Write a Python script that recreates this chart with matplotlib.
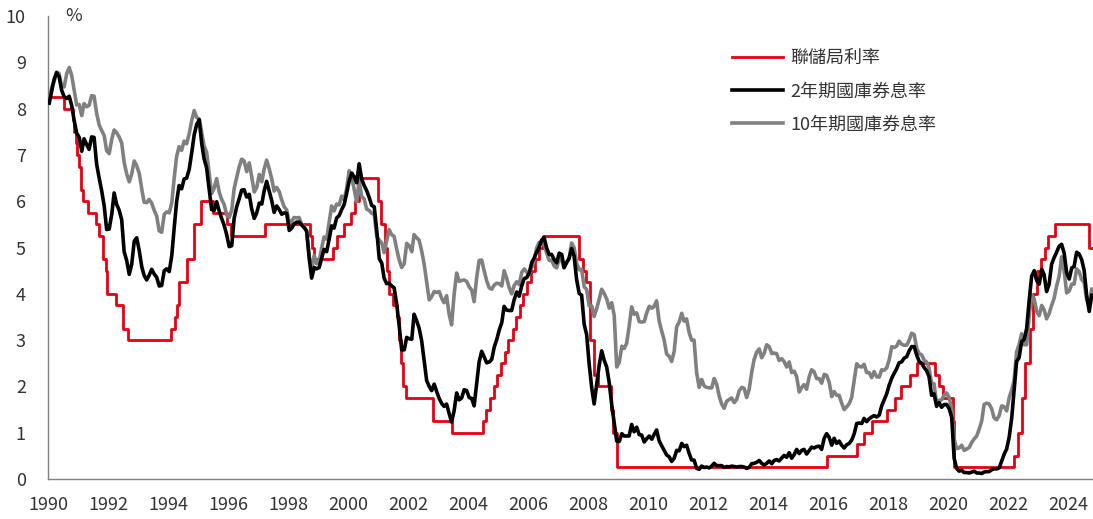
import matplotlib
matplotlib.use("Agg")
import matplotlib.pyplot as plt
import matplotlib.dates as mdates
import pandas as pd

plt.rcParams['font.family'] = ['Noto Sans CJK TC', 'DejaVu Sans']

# Fed funds target (upper bound) change dates and levels
fed_dates = ["1990-01-01", "1990-07-13", "1990-10-29", "1990-11-13", "1990-12-07", "1990-12-19",
             "1991-01-09", "1991-02-01", "1991-03-08", "1991-04-30", "1991-08-06", "1991-09-13",
             "1991-10-31", "1991-11-06", "1991-12-06", "1991-12-20", "1992-04-09", "1992-07-02",
             "1992-09-04", "1994-02-04", "1994-03-22", "1994-04-18", "1994-05-17", "1994-08-16",
             "1994-11-15", "1995-02-01", "1995-07-06", "1995-12-19", "1996-01-31", "1997-03-25",
             "1998-09-29", "1998-10-15", "1998-11-17", "1999-06-30", "1999-08-24", "1999-11-16",
             "2000-02-02", "2000-03-21", "2000-05-16", "2001-01-03", "2001-01-31", "2001-03-20",
             "2001-04-18", "2001-05-15", "2001-06-27", "2001-08-21", "2001-09-17", "2001-10-02",
             "2001-11-06", "2001-12-11", "2002-11-06", "2003-06-25", "2004-06-30", "2004-08-10",
             "2004-09-21", "2004-11-10", "2004-12-14", "2005-02-02", "2005-03-22", "2005-05-03",
             "2005-06-30", "2005-08-09", "2005-09-20", "2005-11-01", "2005-12-13", "2006-01-31",
             "2006-03-28", "2006-05-10", "2006-06-29", "2007-09-18", "2007-10-31", "2007-12-11",
             "2008-01-22", "2008-01-30", "2008-03-18", "2008-04-30", "2008-10-08", "2008-10-29",
             "2008-12-16", "2015-12-16", "2016-12-14", "2017-03-15", "2017-06-14", "2017-12-13",
             "2018-03-21", "2018-06-13", "2018-09-26", "2018-12-19", "2019-07-31", "2019-09-18",
             "2019-10-30", "2020-03-03", "2020-03-15", "2022-03-16", "2022-05-04", "2022-06-15",
             "2022-07-27", "2022-09-21", "2022-11-02", "2022-12-14", "2023-02-01", "2023-03-22",
             "2023-05-03", "2023-07-26", "2024-09-18", "2024-10-31"]
fed_rate = [8.25, 8.00, 7.75, 7.50, 7.25, 7.00,
            6.75, 6.25, 6.00, 5.75, 5.50, 5.25,
            5.00, 4.75, 4.50, 4.00, 3.75, 3.25,
            3.00, 3.25, 3.50, 3.75, 4.25, 4.75,
            5.50, 6.00, 5.75, 5.50, 5.25, 5.50,
            5.25, 5.00, 4.75, 5.00, 5.25, 5.50,
            5.75, 6.00, 6.50, 6.00, 5.50, 5.00,
            4.50, 4.00, 3.75, 3.50, 3.00, 2.50,
            2.00, 1.75, 1.25, 1.00, 1.25, 1.50,
            1.75, 2.00, 2.25, 2.50, 2.75, 3.00,
            3.25, 3.50, 3.75, 4.00, 4.25, 4.50,
            4.75, 5.00, 5.25, 4.75, 4.50, 4.25,
            3.50, 3.00, 2.25, 2.00, 1.50, 1.00,
            0.25, 0.50, 0.75, 1.00, 1.25, 1.50,
            1.75, 2.00, 2.25, 2.50, 2.25, 2.00,
            1.75, 1.25, 0.25, 0.50, 1.00, 1.75,
            2.50, 3.25, 4.00, 4.50, 4.75, 5.00,
            5.25, 5.50, 5.00, 5.00]

# monthly 2-year treasury yield, Jan 1990 - Oct 2024
ust2 = [8.12, 8.39, 8.63, 8.78, 8.69, 8.40, 8.26, 8.22, 8.27, 8.07, 7.74, 7.47,
        7.38, 7.08, 7.35, 7.23, 7.12, 7.39, 7.38, 6.80, 6.50, 6.23, 5.90, 5.39,
        5.40, 5.72, 6.18, 5.93, 5.81, 5.60, 4.91, 4.72, 4.42, 4.64, 5.14, 5.21,
        4.93, 4.58, 4.40, 4.30, 4.40, 4.53, 4.43, 4.36, 4.17, 4.18, 4.50, 4.54,
        4.48, 4.83, 5.40, 5.99, 6.34, 6.27, 6.48, 6.50, 6.69, 7.04, 7.44, 7.66,
        7.76, 7.24, 6.92, 6.72, 6.28, 5.82, 5.80, 5.99, 5.79, 5.63, 5.48, 5.28,
        5.02, 5.04, 5.63, 5.88, 6.05, 6.24, 6.25, 6.09, 6.15, 5.83, 5.63, 5.75,
        5.96, 5.94, 6.22, 6.43, 6.23, 6.02, 5.76, 5.90, 5.82, 5.72, 5.75, 5.74,
        5.37, 5.42, 5.51, 5.55, 5.55, 5.49, 5.43, 5.36, 4.77, 4.34, 4.57, 4.54,
        4.57, 4.78, 4.96, 4.91, 5.17, 5.47, 5.42, 5.64, 5.69, 5.82, 5.93, 6.17,
        6.44, 6.61, 6.53, 6.40, 6.81, 6.48, 6.34, 6.23, 6.08, 5.91, 5.88, 5.38,
        4.76, 4.66, 4.34, 4.22, 4.23, 4.17, 4.13, 3.78, 3.31, 2.79, 2.79, 3.06,
        3.03, 3.02, 3.56, 3.42, 3.26, 2.99, 2.56, 2.13, 2.00, 1.91, 2.05, 1.89,
        1.74, 1.63, 1.57, 1.62, 1.42, 1.23, 1.47, 1.86, 1.71, 1.75, 1.93, 1.91,
        1.76, 1.74, 1.58, 2.07, 2.53, 2.76, 2.64, 2.51, 2.53, 2.58, 2.85, 3.01,
        3.22, 3.38, 3.73, 3.65, 3.64, 3.64, 3.87, 4.04, 3.95, 4.17, 4.33, 4.35,
        4.45, 4.68, 4.77, 4.90, 5.00, 5.16, 5.22, 4.99, 4.85, 4.85, 4.74, 4.67,
        4.88, 4.85, 4.57, 4.67, 4.77, 4.98, 4.82, 4.31, 4.01, 3.97, 3.34, 3.12,
        2.48, 1.97, 1.62, 2.05, 2.45, 2.77, 2.57, 2.42, 2.08, 1.61, 1.21, 0.82,
        0.81, 0.98, 0.93, 0.93, 0.93, 1.18, 1.02, 1.12, 0.96, 0.95, 0.80, 0.87,
        0.93, 0.86, 0.96, 1.06, 0.83, 0.72, 0.62, 0.52, 0.48, 0.38, 0.45, 0.62,
        0.61, 0.77, 0.70, 0.73, 0.56, 0.41, 0.41, 0.23, 0.21, 0.28, 0.25, 0.26,
        0.24, 0.28, 0.34, 0.29, 0.29, 0.29, 0.25, 0.27, 0.26, 0.28, 0.27, 0.26,
        0.27, 0.27, 0.26, 0.23, 0.25, 0.33, 0.34, 0.36, 0.40, 0.34, 0.30, 0.34,
        0.39, 0.33, 0.40, 0.42, 0.39, 0.45, 0.51, 0.47, 0.57, 0.45, 0.53, 0.64,
        0.55, 0.62, 0.64, 0.54, 0.61, 0.69, 0.67, 0.70, 0.71, 0.64, 0.88, 0.98,
        0.90, 0.73, 0.88, 0.77, 0.82, 0.73, 0.67, 0.74, 0.77, 0.84, 0.98, 1.20,
        1.21, 1.20, 1.31, 1.24, 1.30, 1.34, 1.37, 1.34, 1.38, 1.58, 1.71, 1.84,
        2.03, 2.18, 2.28, 2.38, 2.51, 2.53, 2.61, 2.64, 2.77, 2.86, 2.86, 2.68,
        2.54, 2.50, 2.41, 2.34, 2.21, 1.81, 1.84, 1.57, 1.65, 1.55, 1.61, 1.61,
        1.52, 1.33, 0.45, 0.23, 0.17, 0.19, 0.14, 0.14, 0.13, 0.15, 0.17, 0.13,
        0.13, 0.12, 0.15, 0.16, 0.16, 0.20, 0.22, 0.22, 0.24, 0.39, 0.54, 0.65,
        0.91, 1.33, 1.91, 2.54, 2.62, 2.97, 3.01, 3.25, 3.86, 4.38, 4.50, 4.29,
        4.21, 4.53, 4.42, 4.05, 4.20, 4.64, 4.78, 4.90, 5.03, 5.07, 4.88, 4.46,
        4.32, 4.56, 4.59, 4.90, 4.86, 4.74, 4.51, 3.97, 3.62, 3.97]

# monthly 10-year treasury yield, Jan 1990 - Oct 2024
ust10 = [8.21, 8.47, 8.59, 8.79, 8.76, 8.48, 8.47, 8.75, 8.89, 8.72, 8.39, 8.08,
         8.09, 7.85, 8.11, 8.04, 8.07, 8.28, 8.27, 7.90, 7.65, 7.53, 7.42, 7.09,
         7.03, 7.34, 7.54, 7.48, 7.39, 7.26, 6.84, 6.59, 6.42, 6.59, 6.87, 6.77,
         6.60, 6.26, 5.98, 5.97, 6.04, 5.96, 5.81, 5.68, 5.36, 5.33, 5.72, 5.77,
         5.75, 5.97, 6.48, 6.97, 7.18, 7.10, 7.30, 7.24, 7.46, 7.74, 7.96, 7.81,
         7.78, 7.47, 7.20, 7.06, 6.63, 6.17, 6.28, 6.49, 6.20, 6.04, 5.93, 5.71,
         5.65, 5.81, 6.27, 6.51, 6.74, 6.91, 6.87, 6.64, 6.83, 6.53, 6.20, 6.30,
         6.58, 6.42, 6.69, 6.89, 6.71, 6.49, 6.22, 6.30, 6.21, 6.03, 5.88, 5.81,
         5.54, 5.57, 5.65, 5.64, 5.65, 5.50, 5.46, 5.34, 4.81, 4.53, 4.83, 4.65,
         4.72, 5.00, 5.23, 5.18, 5.54, 5.90, 5.79, 5.94, 5.92, 6.11, 6.03, 6.28,
         6.66, 6.52, 6.26, 5.99, 6.44, 6.10, 6.05, 5.83, 5.80, 5.74, 5.72, 5.24,
         5.16, 5.10, 4.89, 5.14, 5.39, 5.28, 5.24, 4.97, 4.73, 4.57, 4.65, 5.09,
         5.04, 4.91, 5.28, 5.21, 5.16, 4.93, 4.65, 4.26, 3.87, 3.94, 4.05, 4.03,
         4.05, 3.90, 3.81, 3.96, 3.57, 3.33, 3.98, 4.45, 4.27, 4.29, 4.30, 4.27,
         4.15, 4.08, 3.83, 4.35, 4.72, 4.73, 4.50, 4.28, 4.13, 4.10, 4.19, 4.23,
         4.22, 4.17, 4.50, 4.34, 4.14, 4.00, 4.18, 4.26, 4.20, 4.46, 4.54, 4.47,
         4.42, 4.57, 4.72, 4.99, 5.11, 5.11, 5.09, 4.88, 4.72, 4.73, 4.60, 4.56,
         4.76, 4.72, 4.56, 4.69, 4.75, 5.10, 5.00, 4.67, 4.52, 4.53, 4.15, 4.10,
         3.74, 3.74, 3.51, 3.68, 3.88, 4.10, 4.01, 3.89, 3.69, 3.81, 3.53, 2.42,
         2.52, 2.87, 2.82, 2.93, 3.29, 3.72, 3.56, 3.59, 3.40, 3.39, 3.40, 3.59,
         3.73, 3.69, 3.73, 3.85, 3.42, 3.20, 3.01, 2.70, 2.65, 2.54, 2.76, 3.29,
         3.39, 3.58, 3.41, 3.46, 3.17, 3.00, 3.00, 2.30, 1.98, 2.15, 2.01, 1.98,
         1.97, 1.97, 2.17, 2.05, 1.80, 1.62, 1.53, 1.68, 1.72, 1.75, 1.65, 1.72,
         1.91, 1.98, 1.96, 1.76, 1.93, 2.30, 2.58, 2.74, 2.81, 2.62, 2.72, 2.90,
         2.86, 2.71, 2.72, 2.71, 2.56, 2.60, 2.54, 2.42, 2.53, 2.30, 2.33, 2.21,
         1.88, 1.98, 2.04, 1.94, 2.20, 2.36, 2.32, 2.17, 2.17, 2.07, 2.26, 2.24,
         2.09, 1.78, 1.89, 1.81, 1.81, 1.64, 1.50, 1.56, 1.63, 1.76, 2.14, 2.49,
         2.43, 2.42, 2.48, 2.30, 2.30, 2.19, 2.32, 2.21, 2.20, 2.36, 2.35, 2.40,
         2.58, 2.86, 2.84, 2.87, 2.98, 2.91, 2.89, 2.89, 3.00, 3.15, 3.12, 2.83,
         2.71, 2.68, 2.57, 2.53, 2.40, 2.07, 2.06, 1.63, 1.70, 1.71, 1.81, 1.86,
         1.76, 1.50, 0.87, 0.66, 0.67, 0.73, 0.62, 0.65, 0.68, 0.79, 0.87, 0.93,
         1.08, 1.26, 1.61, 1.64, 1.62, 1.52, 1.32, 1.28, 1.37, 1.58, 1.56, 1.47,
         1.76, 1.93, 2.13, 2.75, 2.90, 3.14, 2.90, 2.90, 3.52, 3.98, 3.89, 3.62,
         3.53, 3.75, 3.66, 3.46, 3.57, 3.75, 3.90, 4.17, 4.38, 4.80, 4.50, 4.02,
         4.06, 4.21, 4.21, 4.54, 4.48, 4.31, 4.25, 3.87, 3.72, 4.10]

labels = ["聯儲局利率", "2年期國庫券息率", "10年期國庫券息率"]
year_ticks = list(range(1990, 2025, 2))

months = pd.date_range("1990-01-01", periods=len(ust2), freq="MS") + pd.Timedelta(days=14)
fed_x = pd.to_datetime(fed_dates)

fig = plt.figure(figsize=(10.93, 5.19), dpi=100)
ax = fig.add_axes([0.044, 0.077, 0.956, 0.892])

ax.plot(fed_x, fed_rate, drawstyle="steps-post", color="#e60012", lw=2.0, label=labels[0], zorder=1)
ax.plot(months, ust2, color="black", lw=2.6, label=labels[1], zorder=3)
ax.plot(months, ust10, color="#808080", lw=2.6, label=labels[2], zorder=2)

ax.set_xlim(pd.Timestamp("1990-01-01"), pd.Timestamp("2024-10-31"))
ax.set_ylim(0, 10)
ax.set_yticks(range(0, 11))
ax.set_xticks([pd.Timestamp(f"{y}-01-01") for y in year_ticks])
ax.xaxis.set_major_formatter(mdates.DateFormatter("%Y"))
ax.tick_params(length=0, labelsize=13, colors="#333333")
ax.tick_params(axis="y", pad=16)
ax.tick_params(axis="x", pad=12)

for s in ["top", "right"]:
    ax.spines[s].set_visible(False)
for s in ["left", "bottom"]:
    ax.spines[s].set_color("#808080")
    ax.spines[s].set_linewidth(1.0)

ax.text(0.016, 1.0, "%", transform=ax.transAxes, fontsize=13, color="#333333", va="center", ha="left")

leg = ax.legend(loc="upper left", bbox_to_anchor=(732 / 1093, 1 - 49 / 519), bbox_transform=fig.transFigure,
                frameon=False, fontsize=13, handlelength=2.8, handletextpad=0.45, labelspacing=0.85,
                borderpad=0, borderaxespad=0)
for t in leg.get_texts():
    t.set_color("#333333")

fig.savefig("out.png", dpi=100)
